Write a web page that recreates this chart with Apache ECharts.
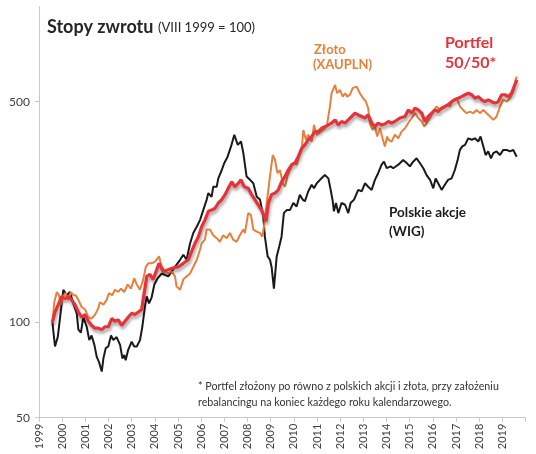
<!DOCTYPE html>
<html>
<head>
<meta charset="utf-8">
<script src="https://cdn.jsdelivr.net/npm/echarts@6/dist/echarts.min.js"></script>
<style>
html,body{margin:0;padding:0;background:#fff;}
#chart{width:536px;height:454px;}
</style>
</head>
<body>
<div id="chart"></div>
<script>
// Index values (VIII 1999 = 100), [decimal year, value]
const wigPoints = [[1999.58,100],[1999.69,84],[1999.81,90],[2000.05,127],[2000.20,122],[2000.34,125],[2000.48,115],[2000.63,107],[2000.70,95],[2000.81,93],[2000.91,104],[2001.06,97],[2001.17,88],[2001.27,91],[2001.39,85],[2001.49,78],[2001.59,75],[2001.71,70],[2001.78,77],[2001.88,83],[2001.99,84],[2002.11,91],[2002.21,88],[2002.35,90],[2002.50,85],[2002.60,77],[2002.68,79],[2002.74,76],[2002.85,82],[2003.00,87],[2003.11,84],[2003.22,84],[2003.36,88],[2003.46,97],[2003.57,112],[2003.65,121],[2003.75,115],[2003.86,120],[2003.98,132],[2004.12,138],[2004.30,143],[2004.58,140],[2004.87,150],[2005.09,158],[2005.23,164],[2005.37,158],[2005.52,178],[2005.66,192],[2005.81,201],[2005.95,211],[2006.09,227],[2006.24,245],[2006.31,257],[2006.45,250],[2006.52,269],[2006.67,269],[2006.74,286],[2006.89,304],[2007.00,320],[2007.14,335],[2007.29,361],[2007.43,393],[2007.58,365],[2007.72,374],[2007.82,344],[2007.96,290],[2008.11,283],[2008.25,276],[2008.40,250],[2008.54,245],[2008.68,217],[2008.75,187],[2008.87,162],[2008.97,158],[2009.04,150],[2009.14,128],[2009.26,162],[2009.37,174],[2009.47,187],[2009.57,222],[2009.69,227],[2009.83,227],[2009.98,239],[2010.12,233],[2010.26,254],[2010.38,245],[2010.48,242],[2010.62,260],[2010.77,273],[2010.87,266],[2010.99,276],[2011.13,283],[2011.34,293],[2011.49,286],[2011.59,263],[2011.68,242],[2011.73,225],[2011.82,239],[2011.92,222],[2012.06,239],[2012.21,236],[2012.35,222],[2012.45,239],[2012.60,245],[2012.78,263],[2012.93,260],[2013.07,276],[2013.21,269],[2013.36,263],[2013.50,283],[2013.64,297],[2013.79,316],[2013.89,323],[2014.01,308],[2014.18,312],[2014.29,308],[2014.51,316],[2014.72,327],[2014.87,320],[2015.01,312],[2015.15,323],[2015.30,331],[2015.44,320],[2015.59,308],[2015.73,293],[2015.88,283],[2016.02,266],[2016.12,286],[2016.23,276],[2016.38,263],[2016.52,273],[2016.66,283],[2016.81,286],[2016.95,304],[2017.07,327],[2017.17,352],[2017.27,361],[2017.39,365],[2017.53,383],[2017.68,379],[2017.82,383],[2017.96,374],[2018.06,388],[2018.18,361],[2018.28,339],[2018.39,348],[2018.51,331],[2018.61,344],[2018.75,348],[2018.90,339],[2019.04,352],[2019.19,352],[2019.33,348],[2019.47,352],[2019.62,335]];

const goldPoints = [[1999.58,100],[1999.66,116],[1999.77,125],[1999.86,122],[1999.95,114],[2000.05,121],[2000.15,124],[2000.26,118],[2000.38,125],[2000.48,122],[2000.58,122],[2000.70,118],[2000.84,112],[2000.99,110],[2001.13,104],[2001.27,103],[2001.42,106],[2001.56,111],[2001.63,116],[2001.78,114],[2001.92,118],[2002.02,124],[2002.16,122],[2002.28,127],[2002.42,125],[2002.54,128],[2002.68,125],[2002.83,132],[2002.97,128],[2003.11,138],[2003.22,132],[2003.36,127],[2003.50,137],[2003.61,150],[2003.72,154],[2003.86,154],[2004.01,156],[2004.18,162],[2004.30,150],[2004.44,145],[2004.58,143],[2004.73,145],[2004.87,140],[2004.94,130],[2005.09,127],[2005.23,137],[2005.37,140],[2005.52,143],[2005.66,150],[2005.81,158],[2005.95,170],[2006.02,178],[2006.16,183],[2006.24,197],[2006.38,197],[2006.52,189],[2006.67,185],[2006.81,180],[2006.95,189],[2007.10,185],[2007.24,192],[2007.38,183],[2007.53,180],[2007.67,189],[2007.82,197],[2007.89,192],[2008.03,222],[2008.15,219],[2008.25,197],[2008.40,194],[2008.54,192],[2008.64,187],[2008.71,201],[2008.83,239],[2008.97,290],[2009.09,339],[2009.19,327],[2009.29,297],[2009.40,304],[2009.52,276],[2009.62,269],[2009.72,290],[2009.83,304],[2009.98,320],[2010.12,316],[2010.23,335],[2010.34,352],[2010.41,407],[2010.52,379],[2010.62,393],[2010.77,374],[2010.87,422],[2010.99,393],[2011.10,398],[2011.27,407],[2011.42,417],[2011.56,483],[2011.63,532],[2011.78,565],[2011.87,532],[2011.99,545],[2012.11,519],[2012.21,532],[2012.31,519],[2012.42,526],[2012.54,552],[2012.71,558],[2012.85,532],[2012.99,513],[2013.11,500],[2013.21,477],[2013.28,428],[2013.40,407],[2013.50,417],[2013.60,388],[2013.72,412],[2013.83,383],[2013.93,361],[2014.03,388],[2014.08,379],[2014.22,374],[2014.36,393],[2014.51,383],[2014.65,402],[2014.80,412],[2014.94,428],[2015.09,444],[2015.23,460],[2015.37,444],[2015.52,433],[2015.63,417],[2015.73,428],[2015.88,444],[2016.02,465],[2016.16,483],[2016.31,471],[2016.45,477],[2016.60,489],[2016.74,483],[2016.88,507],[2017.03,513],[2017.17,483],[2017.31,471],[2017.46,460],[2017.60,465],[2017.74,460],[2017.89,471],[2018.03,460],[2018.18,471],[2018.32,460],[2018.47,449],[2018.61,438],[2018.75,449],[2018.90,483],[2019.04,507],[2019.19,500],[2019.33,513],[2019.47,538],[2019.57,586],[2019.63,600]];

const portfolioPoints = [[1999.57,100],[1999.69,108],[1999.83,114],[1999.98,121],[2000.12,119],[2000.26,121],[2000.41,118],[2000.55,114],[2000.70,108],[2000.84,104],[2000.99,106],[2001.13,101],[2001.27,98],[2001.42,96],[2001.56,96],[2001.71,95],[2001.85,97],[2001.99,97],[2002.14,103],[2002.28,101],[2002.42,102],[2002.57,98],[2002.71,101],[2002.85,104],[2003.00,107],[2003.14,106],[2003.29,108],[2003.43,110],[2003.54,124],[2003.65,140],[2003.79,142],[2003.93,137],[2004.08,147],[2004.18,154],[2004.36,145],[2004.58,147],[2004.80,149],[2005.01,150],[2005.23,154],[2005.44,158],[2005.59,168],[2005.73,178],[2005.88,187],[2006.02,201],[2006.16,211],[2006.31,225],[2006.45,227],[2006.60,230],[2006.74,239],[2006.89,245],[2007.03,254],[2007.17,266],[2007.32,279],[2007.46,269],[2007.60,276],[2007.72,283],[2007.86,269],[2008.03,266],[2008.18,254],[2008.32,245],[2008.46,236],[2008.61,227],[2008.72,217],[2008.80,209],[2008.90,239],[2009.04,254],[2009.19,257],[2009.33,263],[2009.47,279],[2009.62,290],[2009.76,304],[2009.91,316],[2010.05,320],[2010.19,335],[2010.34,356],[2010.48,365],[2010.62,379],[2010.77,388],[2010.91,402],[2011.05,402],[2011.20,412],[2011.34,417],[2011.49,422],[2011.63,428],[2011.78,438],[2011.92,422],[2012.06,433],[2012.21,428],[2012.35,438],[2012.50,449],[2012.64,460],[2012.78,454],[2012.93,449],[2013.07,444],[2013.21,454],[2013.36,428],[2013.50,417],[2013.64,428],[2013.79,422],[2013.93,425],[2014.08,433],[2014.22,428],[2014.36,433],[2014.58,444],[2014.80,449],[2014.94,471],[2015.09,460],[2015.23,477],[2015.37,471],[2015.52,460],[2015.66,433],[2015.80,449],[2015.95,460],[2016.09,471],[2016.23,465],[2016.38,477],[2016.52,483],[2016.66,489],[2016.81,500],[2016.95,507],[2017.10,513],[2017.24,519],[2017.39,526],[2017.53,532],[2017.68,526],[2017.82,513],[2017.96,519],[2018.11,507],[2018.25,500],[2018.39,507],[2018.54,500],[2018.68,495],[2018.82,500],[2018.97,526],[2019.11,526],[2019.26,519],[2019.40,532],[2019.54,565],[2019.63,586]];

const yTickValues = [50, 100, 500];
const yearLabels = ['1999','2000','2001','2002','2003','2004','2005','2006','2007','2008','2009','2010','2011','2012','2013','2014','2015','2016','2017','2018','2019'];

const FONT = 'Lato, "Open Sans", sans-serif';
const toLog = pts => pts.map(p => [p[0], Math.log10(p[1])]);

const chart = echarts.init(document.getElementById('chart'), null, {renderer: 'canvas'});
chart.setOption({
  animation: false,
  backgroundColor: '#ffffff',
  grid: {left: 39, right: 10.5, top: 6.6, bottom: 36.3, containLabel: false},
  xAxis: {
    type: 'value', min: 1999, max: 2020, interval: 1,
    axisLine: {show: true, lineStyle: {color: '#c8c8c8', width: 1}},
    axisTick: {show: true, length: 4, lineStyle: {color: '#c8c8c8'}},
    splitLine: {show: false},
    axisLabel: {
      rotate: 90, margin: 6, fontSize: 11, color: '#404040', fontFamily: FONT,
      formatter: v => { const i = Math.round(v) - 1999; return yearLabels[i] || ''; }
    }
  },
  yAxis: {
    type: 'value', min: Math.log10(50), max: 3,
    axisLine: {show: true, lineStyle: {color: '#c8c8c8', width: 1}},
    axisTick: {show: true, length: 4, lineStyle: {color: '#c8c8c8'}, customValues: yTickValues.map(v => Math.log10(v))},
    splitLine: {show: false},
    axisLabel: {
      customValues: yTickValues.map(v => Math.log10(v)),
      margin: 9, fontSize: 12, color: '#404040', fontFamily: FONT,
      formatter: v => String(Math.round(Math.pow(10, v)))
    }
  },
  series: [
    {name: 'Polskie akcje (WIG)', type: 'line', showSymbol: false, data: toLog(wigPoints),
     lineStyle: {color: '#1a1a1a', width: 2}, z: 2},
    {name: 'Złoto (XAUPLN)', type: 'line', showSymbol: false, data: toLog(goldPoints),
     lineStyle: {color: '#e6803c', width: 2}, z: 3},
    {name: 'Portfel 50/50*', type: 'line', showSymbol: false, data: toLog(portfolioPoints),
     lineStyle: {color: '#e8323a', width: 3.2, shadowColor: 'rgba(0,0,0,0.35)', shadowBlur: 3, shadowOffsetX: 1, shadowOffsetY: 3}, z: 4}
  ],
  graphic: [
    {type: 'text', x: 47, y: 27, style: {text: 'Stopy zwrotu', font: 'bold 18px ' + FONT, fill: '#262626', verticalAlign: 'middle'}},
    {type: 'text', x: 158, y: 28, style: {text: '(VIII 1999 = 100)', font: '13px ' + FONT, fill: '#262626', verticalAlign: 'middle'}},
    {type: 'text', x: 314, y: 49.5, style: {text: 'Złoto', font: 'bold 13px ' + FONT, fill: '#e6803c', verticalAlign: 'middle'}},
    {type: 'text', x: 313, y: 65, style: {text: '(XAUPLN)', font: 'bold 13px ' + FONT, fill: '#e6803c', verticalAlign: 'middle'}},
    {type: 'text', x: 445, y: 42.5, style: {text: 'Portfel', font: 'bold 16px ' + FONT, fill: '#e8323a', verticalAlign: 'middle'}},
    {type: 'text', x: 445, y: 63, style: {text: '50/50*', font: 'bold 16px ' + FONT, fill: '#e8323a', verticalAlign: 'middle'}},
    {type: 'text', x: 389, y: 212.5, style: {text: 'Polskie akcje', font: 'bold 13.5px ' + FONT, fill: '#1a1a1a', verticalAlign: 'middle'}},
    {type: 'text', x: 389, y: 232, style: {text: '(WIG)', font: 'bold 13.5px ' + FONT, fill: '#1a1a1a', verticalAlign: 'middle'}},
    {type: 'text', x: 198, y: 387, style: {text: '* Portfel złożony po równo z polskich akcji i złota, przy założeniu', font: '10.7px ' + FONT, fill: '#333333', verticalAlign: 'middle'}},
    {type: 'text', x: 198, y: 402.5, style: {text: 'rebalancingu na koniec każdego roku kalendarzowego.', font: '10.7px ' + FONT, fill: '#333333', verticalAlign: 'middle'}}
  ]
});
</script>
</body>
</html>
